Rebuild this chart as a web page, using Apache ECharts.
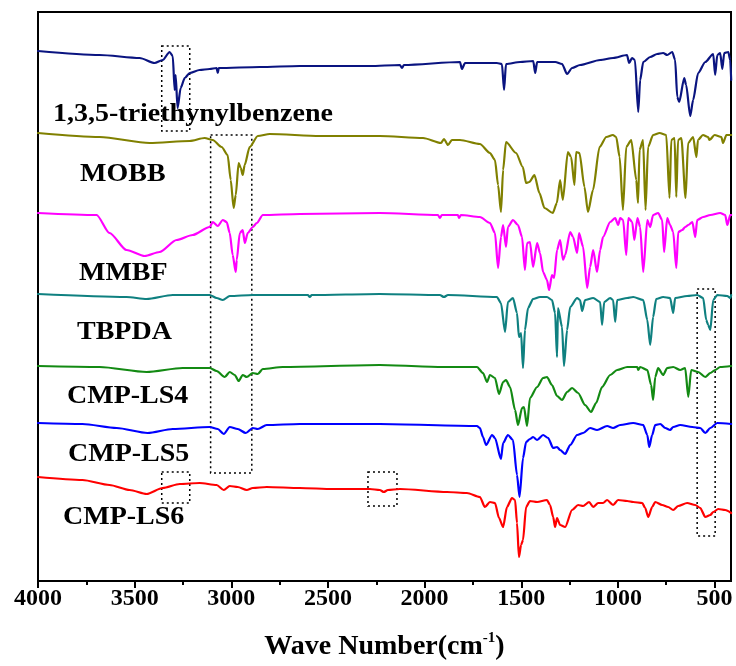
<!DOCTYPE html>
<html>
<head>
<meta charset="utf-8">
<script src="https://cdn.jsdelivr.net/npm/echarts@6/dist/echarts.min.js"></script>
<style>html,body{margin:0;padding:0;background:#fff}#c{width:736px;height:666px}</style>
</head>
<body>
<div id="c"></div>
<script>
// FTIR spectra: [wavenumber (cm-1), transmittance (a.u., stacked with offset)]
const seriesNames = ['1,3,5-triethynylbenzene','MOBB','MMBF','TBPDA','CMP-LS4','CMP-LS5','CMP-LS6'];
const seriesColors = ['#0a1480','#808000','#ff00ff','#0f8080','#138a13','#0000ff','#ff0000'];
const majorTicks = [4000,3500,3000,2500,2000,1500,1000,500];
const minorTicks = [3750,3250,2750,2250,1750,1250,750];

const teb = [[4000,530],[3681,526],[3474,523],[3397,518],[3355,521],[3319,529],[3303,525],[3293,491],[3288,506],[3278,473],[3262,493],[3241,503],[3215,508],[3164,511],[3112,512],[3076,513],[3070,508],[3065,513],[2853,514],[2646,515],[2283,515],[2128,516],[2117,513],[2107,516],[1817,519],[1807,512],[1791,518],[1626,518],[1600,517],[1589,491],[1579,517],[1506,519],[1438,520],[1428,508],[1418,519],[1324,519],[1289,517],[1263,507],[1237,513],[1196,516],[1092,521],[1025,523],[953,526],[942,518],[927,523],[912,521],[895,469],[885,501],[869,519],[833,524],[797,527],[766,528],[745,526],[719,529],[704,521],[693,484],[683,479],[657,503],[647,496],[626,465],[611,481],[585,508],[548,519],[507,527],[497,506],[486,526],[471,528],[460,512],[450,528],[429,529],[419,521],[414,501]];
const mobb = [[4000,448],[3681,444],[3423,438],[3215,440],[3138,443],[3096,441],[3050,434],[3019,426],[3003,401],[2988,373],[2977,386],[2962,418],[2951,413],[2941,406],[2931,416],[2905,434],[2863,445],[2801,447],[2542,445],[2232,445],[2008,443],[1915,438],[1900,442],[1879,436],[1859,441],[1817,441],[1714,437],[1662,428],[1636,421],[1620,396],[1605,369],[1594,411],[1579,439],[1527,428],[1492,414],[1475,398],[1458,399],[1432,406],[1406,388],[1380,373],[1337,368],[1316,378],[1299,401],[1285,381],[1259,429],[1242,424],[1225,396],[1216,429],[1199,428],[1173,394],[1155,369],[1129,391],[1095,434],[1060,444],[1026,446],[1009,444],[991,424],[974,371],[957,434],[931,441],[905,401],[896,378],[888,431],[870,441],[857,371],[844,434],[818,446],[784,448],[750,446],[733,383],[724,441],[707,443],[698,384],[689,441],[672,443],[650,383],[637,438],[611,444],[594,424],[586,441],[560,446],[534,444],[526,441],[500,446],[465,444],[456,438],[439,446],[414,446]];
const mmbf = [[4000,368],[3697,366],[3630,348],[3542,331],[3448,325],[3371,329],[3283,341],[3200,346],[3112,354],[3096,359],[3070,355],[3044,361],[3024,359],[3008,348],[2993,326],[2977,309],[2972,321],[2956,348],[2941,351],[2930,338],[2915,348],[2889,354],[2868,358],[2837,366],[2646,367],[2232,368],[1931,366],[1921,363],[1911,366],[1828,366],[1822,363],[1812,366],[1714,364],[1662,358],[1636,348],[1620,313],[1605,344],[1594,356],[1579,334],[1569,354],[1543,361],[1517,356],[1496,344],[1481,311],[1470,338],[1455,339],[1439,314],[1418,338],[1403,328],[1387,309],[1367,301],[1356,291],[1341,306],[1330,303],[1315,331],[1299,341],[1284,321],[1273,326],[1247,349],[1232,344],[1211,328],[1201,348],[1180,334],[1159,293],[1144,314],[1128,331],[1108,309],[1092,331],[1077,344],[1040,359],[1014,363],[999,356],[988,363],[973,361],[957,326],[946,363],[926,359],[915,341],[899,363],[885,354],[869,309],[848,361],[833,354],[818,366],[792,368],[771,361],[761,329],[745,363],[730,356],[714,349],[698,313],[688,349],[667,351],[652,354],[636,356],[615,359],[600,344],[590,361],[559,364],[522,366],[471,368],[445,366],[434,356],[419,366],[414,366]];
const tbpda = [[4000,287],[3542,284],[3438,282],[3303,286],[3112,286],[3076,283],[3044,281],[3008,285],[2889,286],[2604,286],[2594,284],[2584,286],[2232,287],[1921,286],[1900,284],[1879,286],[1626,284],[1605,278],[1584,249],[1569,279],[1543,283],[1522,268],[1512,244],[1501,248],[1491,213],[1481,251],[1465,273],[1439,282],[1403,284],[1367,284],[1341,281],[1325,268],[1315,224],[1310,273],[1289,254],[1279,215],[1263,251],[1247,274],[1211,283],[1196,281],[1185,270],[1170,281],[1128,283],[1092,279],[1082,256],[1071,279],[1040,283],[1025,281],[1014,259],[1004,281],[952,283],[921,284],[869,281],[848,261],[833,236],[818,264],[802,282],[766,284],[730,283],[714,268],[704,283],[642,285],[590,286],[559,283],[543,261],[533,256],[522,251],[507,281],[486,286],[434,285],[419,283],[414,286]];
const ls4 = [[4000,215],[3681,214],[3438,209],[3252,213],[3112,213],[3076,210],[3034,204],[3008,209],[2982,206],[2962,200],[2941,206],[2920,204],[2889,208],[2863,207],[2837,212],[2734,214],[2232,216],[1905,214],[1729,214],[1698,208],[1677,199],[1662,206],[1636,203],[1615,187],[1594,199],[1579,201],[1558,194],[1532,171],[1517,156],[1496,173],[1486,174],[1470,155],[1455,183],[1418,194],[1387,203],[1367,204],[1341,196],[1315,185],[1289,181],[1263,189],[1237,193],[1206,188],[1170,176],[1139,169],[1113,178],[1082,194],[1040,206],[1004,211],[952,214],[900,214],[895,211],[885,214],[848,211],[828,196],[818,181],[807,204],[792,213],[766,206],[745,213],[714,214],[678,211],[652,213],[636,184],[621,211],[585,209],[548,204],[522,208],[497,211],[471,214],[414,215]];
const ls5 = [[4000,158],[3770,157],[3593,153],[3433,148],[3303,152],[3112,154],[3070,152],[3039,147],[3008,154],[2967,152],[2925,148],[2889,153],[2863,152],[2817,156],[2646,157],[2232,157],[1729,155],[1714,153],[1698,144],[1682,136],[1651,146],[1636,143],[1605,122],[1594,138],[1569,146],[1543,141],[1522,106],[1509,84],[1491,123],[1475,139],[1455,142],[1439,144],[1418,141],[1387,146],[1361,143],[1335,133],[1315,134],[1299,131],[1273,127],[1247,136],[1211,146],[1180,148],[1144,153],[1108,151],[1056,155],[1025,153],[988,156],[921,158],[869,156],[848,146],[838,134],[823,146],[807,156],[781,157],[755,153],[730,151],[714,154],[678,156],[615,154],[574,153],[548,148],[522,153],[486,158],[414,157]];
const ls6 = [[4000,104],[3770,101],[3630,96],[3526,91],[3438,87],[3355,93],[3267,97],[3164,98],[3076,96],[3039,91],[3008,95],[2967,94],[2920,91],[2889,93],[2817,94],[2646,93],[2475,92],[2283,92],[2232,91],[2211,89],[2190,91],[2128,92],[1884,89],[1781,88],[1714,84],[1688,74],[1662,79],[1636,78],[1615,63],[1594,54],[1574,74],[1548,83],[1532,81],[1522,58],[1512,24],[1501,36],[1491,41],[1475,74],[1455,80],[1418,79],[1367,81],[1351,76],[1335,64],[1325,54],[1315,63],[1299,56],[1273,54],[1237,71],[1206,76],[1180,75],[1149,79],[1128,74],[1102,78],[1077,78],[1056,81],[1025,76],[999,81],[952,80],[921,79],[874,78],[859,73],[843,64],[823,74],[807,79],[771,76],[740,74],[714,71],[688,75],[642,78],[600,76],[574,73],[548,64],[522,66],[507,69],[481,72],[445,71],[414,68]];

// dotted highlight boxes: [wavenumber from, intensity top, wavenumber to, intensity bottom]
const boxes = [[3360,535,3215,450],[3107,446,2894,108],[3360,109,3215,78],[2293,109,2143,75],[590,292,497,45]];

const spectra = [teb, mobb, mmbf, tbpda, ls4, ls5, ls6];

const chart = echarts.init(document.getElementById('c'), null, {renderer:'canvas'});
const serif = 'Liberation Serif, Times New Roman, serif';

const series = spectra.map((d, i) => ({
  name: seriesNames[i],
  type: 'line',
  data: d,
  showSymbol: false,
  symbol: 'none',
  smooth: 0.25,
  smoothMonotone: 'x',
  lineStyle: {color: seriesColors[i], width: 2.2, join: 'round', cap: 'round'},
  silent: true,
  z: 3
}));
series[0].markArea = {
  silent: true,
  itemStyle: {color: 'rgba(0,0,0,0)', borderColor: '#000', borderWidth: 1.5, borderType: [2, 3]},
  data: boxes.map(b => [{xAxis: b[0], yAxis: b[1]}, {xAxis: b[2], yAxis: b[3]}])
};

const labelPos = [[53,115],[80,175],[79,274],[77,333],[67,397],[68,455],[63,518]];

chart.setOption({
  animation: false,
  grid: {left: 38, right: 5, top: 12, bottom: 85, show: true, borderColor: '#000', borderWidth: 2, containLabel: false, outerBoundsMode: 'none'},
  xAxis: [{
    type: 'value', min: 415, max: 4000, inverse: true, position: 'bottom',
    axisLine: {show: true, onZero: false, lineStyle: {color: '#000', width: 2}},
    axisTick: {show: true, inside: false, length: 7, lineStyle: {color: '#000', width: 2}, customValues: majorTicks},
    axisLabel: {customValues: majorTicks, formatter: v => String(v), fontSize: 24, fontWeight: 'bold', fontFamily: serif, color: '#000', margin: 6},
    splitLine: {show: false},
    name: '{n|Wave Number(cm}{s|-1}{n|)}',
    nameLocation: 'middle', nameGap: 50,
    nameTextStyle: {
      rich: {
        n: {fontSize: 28, fontWeight: 'bold', fontFamily: serif, color: '#000', lineHeight: 32},
        s: {fontSize: 15, fontWeight: 'bold', fontFamily: serif, color: '#000', verticalAlign: 'top', lineHeight: 16}
      }
    }
  }, {
    type: 'value', min: 415, max: 4000, inverse: true, position: 'bottom',
    axisLine: {show: false},
    axisTick: {show: true, inside: false, length: 4, lineStyle: {color: '#000', width: 2}, customValues: minorTicks},
    axisLabel: {show: false},
    splitLine: {show: false}
  }],
  yAxis: {type: 'value', min: 0, max: 569, show: false},
  graphic: seriesNames.map((t, i) => ({
    type: 'text', x: labelPos[i][0], y: labelPos[i][1], scaleX: 1.12, z: 10,
    style: {text: t, fontSize: 25, fontWeight: 'bold', fontFamily: serif, fill: '#000', verticalAlign: 'middle', align: 'left'}
  })),
  series: series
});
</script>
</body>
</html>
